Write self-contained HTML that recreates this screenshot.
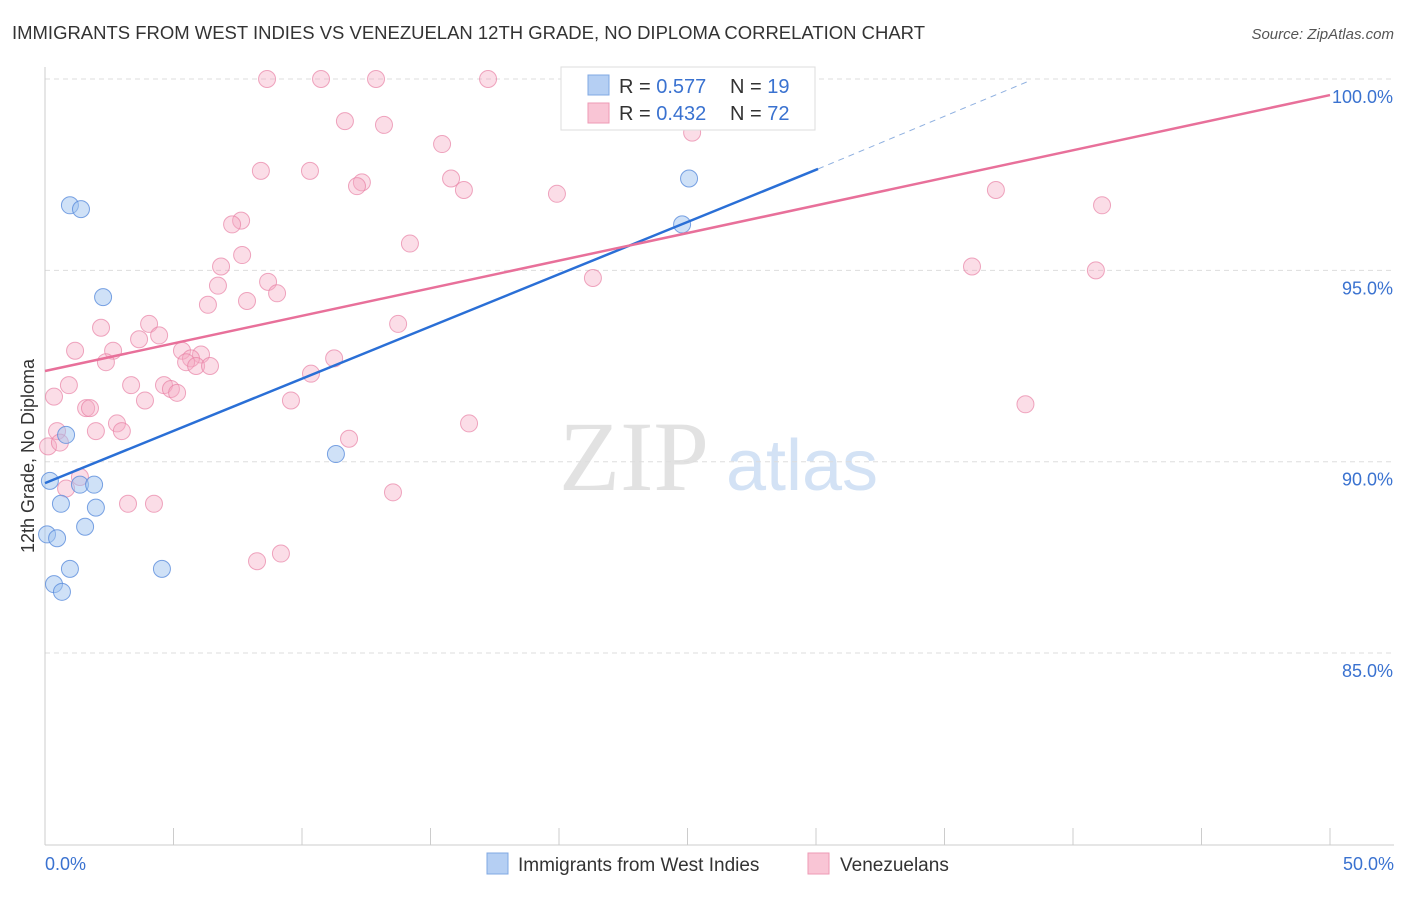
<!DOCTYPE html>
<html><head><meta charset="utf-8"><style>
body{margin:0;background:#fff;font-family:"Liberation Sans",sans-serif}
svg text{font-family:"Liberation Sans",sans-serif}
</style></head><body>
<svg id="chart" width="1406" height="892" viewBox="0 0 1406 892">
<text x="12" y="39" font-size="18" fill="#333" textLength="913" lengthAdjust="spacingAndGlyphs">IMMIGRANTS FROM WEST INDIES VS VENEZUELAN 12TH GRADE, NO DIPLOMA CORRELATION CHART</text>
<text x="1394" y="39" font-size="15" fill="#555" text-anchor="end" font-style="italic">Source: ZipAtlas.com</text>
<text x="634" y="490" font-size="100" fill="#e2e2e2" text-anchor="middle" style="font-family:'Liberation Serif',serif">ZIP</text>
<text x="802" y="490" font-size="72" fill="#d3e2f5" text-anchor="middle">atlas</text>
<g id="grid"></g>
<g id="axes"></g>
<g id="marks"></g>
<text transform="translate(34,456) rotate(-90)" font-size="18" fill="#333" text-anchor="middle">12th Grade, No Diploma</text>
<g>
<rect x="561" y="67" width="254" height="63" fill="#fff" stroke="#ddd"/>
<rect x="588" y="75" width="21" height="20" fill="#b5cff3" stroke="#80a8e3"/>
<rect x="588" y="103" width="21" height="20" fill="#f9c5d5" stroke="#ee9ab5"/>
<text x="619" y="93" font-size="20" fill="#333">R = <tspan fill="#3a72d0">0.577</tspan></text>
<text x="730" y="93" font-size="20" fill="#333">N = <tspan fill="#3a72d0">19</tspan></text>
<text x="619" y="120" font-size="20" fill="#333">R = <tspan fill="#3a72d0">0.432</tspan></text>
<text x="730" y="120" font-size="20" fill="#333">N = <tspan fill="#3a72d0">72</tspan></text>
</g>
<g>
<rect x="487" y="853" width="21" height="21" fill="#b5cff3" stroke="#80a8e3"/>
<text x="518" y="871" font-size="19" fill="#333">Immigrants from West Indies</text>
<rect x="808" y="853" width="21" height="21" fill="#f9c5d5" stroke="#ee9ab5"/>
<text x="840" y="871" font-size="19" fill="#333">Venezuelans</text>
</g>
</svg>
<script>
const yTicks=[100,95,90,85];
const yTickLabels=["100.0%","95.0%","90.0%","85.0%"];
const xTickLabels=["0.0%","50.0%"];
const blueX=[0.19,0.08,0.47,0.35,0.66,0.97,0.62,1.56,1.98,1.36,1.91,0.82,0.97,1.40,2.26,4.55,11.32,24.79,25.06];
const blueY=[89.5,88.1,88.0,86.8,86.6,87.2,88.9,88.3,88.8,89.4,89.4,90.7,96.7,96.6,94.3,87.2,90.2,96.2,97.4];
const pinkX=[8.64,10.74,12.88,17.24,11.67,13.19,15.45,25.18,8.40,10.31,12.33,12.14,15.80,16.30,19.92,37.00,41.13,7.63,7.28,14.20,7.67,6.85,6.73,8.68,9.03,6.34,7.86,36.07,40.89,21.32,2.18,4.05,4.44,13.74,3.66,1.17,2.65,5.33,6.07,5.68,2.37,5.49,5.88,6.42,11.25,10.35,0.93,3.35,4.63,0.35,3.89,4.90,5.14,1.60,1.75,9.57,38.15,2.80,2.99,1.98,0.47,16.50,11.83,0.12,1.36,0.82,13.54,3.23,4.24,9.18,8.25,0.58];
const pinkY=[100,100,100,100,98.9,98.8,98.3,98.6,97.6,97.6,97.3,97.2,97.4,97.1,97.0,97.1,96.7,96.3,96.2,95.7,95.4,95.1,94.6,94.7,94.4,94.1,94.2,95.1,95.0,94.8,93.5,93.6,93.3,93.6,93.2,92.9,92.9,92.9,92.8,92.7,92.6,92.6,92.5,92.5,92.7,92.3,92.0,92.0,92.0,91.7,91.6,91.9,91.8,91.4,91.4,91.6,91.5,91.0,90.8,90.8,90.8,91.0,90.6,90.4,89.6,89.3,89.2,88.9,88.9,87.6,87.4,90.5];
const blueLine=[[0,89.44],[30.08,97.65]];
const blueDash=[[30.08,97.65],[38.3,99.95]];
const pinkLine=[[0,92.37],[50,99.58]];
const NS="http://www.w3.org/2000/svg";
const sx=v=>45+v/50*1285;
const sy=v=>79+(100-v)*38.27;
function mk(tag,attrs,parent){const e=document.createElementNS(NS,tag);for(const k in attrs)e.setAttribute(k,attrs[k]);parent.appendChild(e);return e;}
const grid=document.getElementById('grid'),axes=document.getElementById('axes'),marks=document.getElementById('marks');
yTicks.forEach((t,i)=>{
 const l=mk('line',{x1:45,x2:1394,y1:sy(t),y2:sy(t),stroke:'#ddd','stroke-dasharray':'5,4'},grid);
 
 
 const tx=mk('text',{x:1393,y:sy(t)+24,'font-size':18,fill:'#3a72d0','text-anchor':'end'},axes);
 tx.textContent=yTickLabels[i];
 
 
});
let a=mk('line',{x1:45,x2:45,y1:67,y2:845,stroke:'#ccc'},axes);


a=mk('line',{x1:45,x2:1394,y1:845,y2:845,stroke:'#ccc'},axes);


for(let i=0;i<=10;i++){
 const t=mk('line',{x1:sx(i*5),x2:sx(i*5),y1:828,y2:845,stroke:'#ccc'},axes);
 
 
}
[[0,'start',45],[50,'end',1394]].forEach((d,i)=>{
 const tx=mk('text',{x:d[2],y:870,'font-size':18,fill:'#3a72d0','text-anchor':d[1]},axes);
 tx.textContent=xTickLabels[i];
 
 
});
pinkX.forEach((x,i)=>{
 const c=mk('circle',{cx:sx(x),cy:sy(pinkY[i]),r:8.5,fill:'rgba(245,170,195,0.4)',stroke:'rgba(232,130,165,0.7)','stroke-width':1},marks);
 
 
});
blueX.forEach((x,i)=>{
 const c=mk('circle',{cx:sx(x),cy:sy(blueY[i]),r:8.5,fill:'rgba(160,195,240,0.5)',stroke:'rgba(90,140,220,0.8)','stroke-width':1},marks);
 
 
});
let ln=mk('line',{x1:sx(blueLine[0][0]),y1:sy(blueLine[0][1]),x2:sx(blueLine[1][0]),y2:sy(blueLine[1][1]),stroke:'#2a6fd6','stroke-width':2.5},marks);


ln=mk('line',{x1:sx(blueDash[0][0]),y1:sy(blueDash[0][1]),x2:sx(blueDash[1][0]),y2:sy(blueDash[1][1]),stroke:'#8fb0e0','stroke-width':1,'stroke-dasharray':'6,5'},marks);


ln=mk('line',{x1:sx(pinkLine[0][0]),y1:sy(pinkLine[0][1]),x2:sx(pinkLine[1][0]),y2:sy(pinkLine[1][1]),stroke:'#e8709a','stroke-width':2.5},marks);


</script>
</body></html>
